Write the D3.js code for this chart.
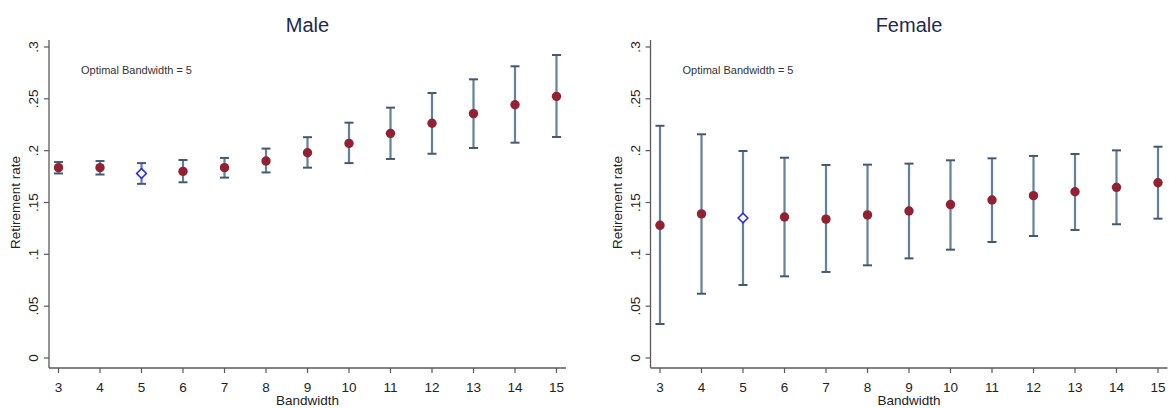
<!DOCTYPE html>
<html>
<head>
<meta charset="utf-8">
<script src="https://cdn.jsdelivr.net/npm/d3@7"></script>
<style>
  body { margin: 0; background: #fff; }
  svg { font-family: "Liberation Sans", Arial, sans-serif; }
</style>
</head>
<body>
<svg id="chart" width="1169" height="408"></svg>
<script>
// bandwidths on the x axis
var bandwidths = [3, 4, 5, 6, 7, 8, 9, 10, 11, 12, 13, 14, 15];
var optimalBw = 5;

var maleEst = [0.1836, 0.1836, 0.178, 0.180, 0.1836, 0.190, 0.198, 0.207, 0.2167, 0.2264, 0.2357, 0.2443, 0.2524];
var maleLo  = [0.178, 0.177, 0.168, 0.1695, 0.174, 0.179, 0.1836, 0.188, 0.192, 0.197, 0.2026, 0.2077, 0.2132];
var maleHi  = [0.189, 0.190, 0.188, 0.191, 0.193, 0.202, 0.213, 0.227, 0.2415, 0.2556, 0.2688, 0.2814, 0.2923];

var femaleEst = [0.128, 0.139, 0.135, 0.136, 0.134, 0.138, 0.1418, 0.148, 0.1524, 0.1566, 0.1604, 0.1646, 0.1691];
var femaleLo  = [0.0328, 0.062, 0.0704, 0.0788, 0.083, 0.0894, 0.0961, 0.1045, 0.1119, 0.1177, 0.1235, 0.129, 0.1344];
var femaleHi  = [0.224, 0.2158, 0.1997, 0.1932, 0.1862, 0.1865, 0.1875, 0.1907, 0.1926, 0.1949, 0.1968, 0.2003, 0.2038];

var yTicks = [0, 0.05, 0.1, 0.15, 0.2, 0.25, 0.3];
var yTickLabels = ["0", ".05", ".1", ".15", ".2", ".25", ".3"];

var svg = d3.select("#chart");

function drawPanel(left, title, est, lo, hi) {
    var axisX = left,          // y axis line position
        x0 = left + 9.5,       // first tick (bandwidth 3)
        x1 = x0 + 498,         // last tick (bandwidth 15)
        axisEnd = left + 517;

    var x = d3.scaleLinear().domain([3, 15]).range([x0, x1]);
    var y = d3.scaleLinear().domain([0, 0.3]).range([358, 47]);

    var g = svg.append("g");
    var axisColor = "#5a5a5a";

    // y axis
    g.append("line")
        .attr("x1", axisX).attr("x2", axisX)
        .attr("y1", 40).attr("y2", 368)
        .attr("stroke", axisColor).attr("stroke-width", 1.3);
    g.selectAll(".ytick").data(yTicks).enter().append("line")
        .attr("x1", axisX - 5).attr("x2", axisX)
        .attr("y1", function(d) { return y(d); })
        .attr("y2", function(d) { return y(d); })
        .attr("stroke", axisColor).attr("stroke-width", 1.2);
    g.selectAll(".ylab").data(yTicks).enter().append("text")
        .attr("transform", function(d) { return "translate(" + (axisX - 11) + "," + y(d) + ") rotate(-90)"; })
        .attr("text-anchor", "middle")
        .attr("font-size", 13.5)
        .attr("fill", "#222")
        .text(function(d, i) { return yTickLabels[i]; });
    g.append("text")
        .attr("transform", "translate(" + (axisX - 29) + "," + y(0.15) + ") rotate(-90)")
        .attr("text-anchor", "middle")
        .attr("font-size", 13.5)
        .attr("fill", "#222")
        .text("Retirement rate");

    // x axis
    g.append("line")
        .attr("x1", axisX).attr("x2", axisEnd)
        .attr("y1", 368).attr("y2", 368)
        .attr("stroke", axisColor).attr("stroke-width", 1.3);
    g.selectAll(".xtick").data(bandwidths).enter().append("line")
        .attr("x1", function(d) { return x(d); })
        .attr("x2", function(d) { return x(d); })
        .attr("y1", 368).attr("y2", 373)
        .attr("stroke", axisColor).attr("stroke-width", 1.2);
    g.selectAll(".xlab").data(bandwidths).enter().append("text")
        .attr("x", function(d) { return x(d); })
        .attr("y", 392)
        .attr("text-anchor", "middle")
        .attr("font-size", 13.5)
        .attr("fill", "#222")
        .text(function(d) { return d; });
    g.append("text")
        .attr("x", (x0 + x1) / 2).attr("y", 405)
        .attr("text-anchor", "middle")
        .attr("font-size", 13.5)
        .attr("fill", "#222")
        .text("Bandwidth");

    // title and note
    g.append("text")
        .attr("x", (x0 + x1) / 2).attr("y", 32)
        .attr("text-anchor", "middle")
        .attr("font-size", 20)
        .attr("fill", "#1c2b50")
        .text(title);
    g.append("text")
        .attr("x", left + 32).attr("y", 74)
        .attr("font-size", 11)
        .attr("fill", "#333")
        .text("Optimal Bandwidth = " + optimalBw);

    // error bars
    var rows = bandwidths.map(function(b, i) {
        return { bw: b, est: est[i], lo: lo[i], hi: hi[i] };
    });
    var barColor = "#62809f";
    var bars = g.append("g").selectAll("g").data(rows).enter().append("g");
    bars.append("line")
        .attr("x1", function(d) { return x(d.bw); })
        .attr("x2", function(d) { return x(d.bw); })
        .attr("y1", function(d) { return y(d.lo); })
        .attr("y2", function(d) { return y(d.hi); })
        .attr("stroke", barColor).attr("stroke-width", 2.2);
    bars.append("line")
        .attr("x1", function(d) { return x(d.bw) - 4.5; })
        .attr("x2", function(d) { return x(d.bw) + 4.5; })
        .attr("y1", function(d) { return y(d.hi); })
        .attr("y2", function(d) { return y(d.hi); })
        .attr("stroke", "#44596f").attr("stroke-width", 2);
    bars.append("line")
        .attr("x1", function(d) { return x(d.bw) - 4.5; })
        .attr("x2", function(d) { return x(d.bw) + 4.5; })
        .attr("y1", function(d) { return y(d.lo); })
        .attr("y2", function(d) { return y(d.lo); })
        .attr("stroke", "#44596f").attr("stroke-width", 2);

    // point estimates
    g.selectAll(".pt").data(rows.filter(function(d) { return d.bw != optimalBw; }))
        .enter().append("circle")
        .attr("cx", function(d) { return x(d.bw); })
        .attr("cy", function(d) { return y(d.est); })
        .attr("r", 4.7)
        .attr("fill", "#922232");

    var opt = rows.filter(function(d) { return d.bw == optimalBw; });
    g.selectAll(".opt").data(opt).enter().append("path")
        .attr("d", d3.symbol().type(d3.symbolDiamond2).size(60))
        .attr("transform", function(d) { return "translate(" + x(d.bw) + "," + y(d.est) + ")"; })
        .attr("fill", "#fff")
        .attr("stroke", "#2a2ae8")
        .attr("stroke-width", 1.6);
}

drawPanel(49, "Male", maleEst, maleLo, maleHi);
drawPanel(650.5, "Female", femaleEst, femaleLo, femaleHi);
</script>
</body>
</html>
